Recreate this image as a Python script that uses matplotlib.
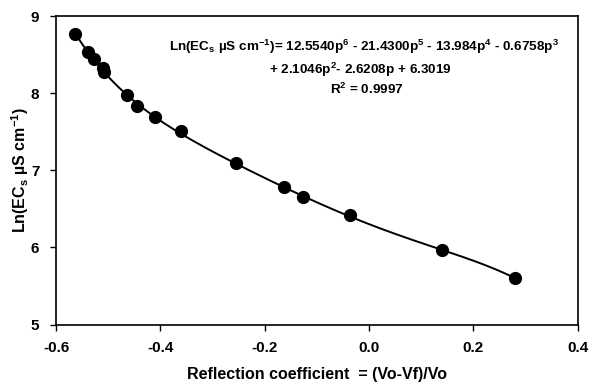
import numpy as np
import matplotlib
matplotlib.use("Agg")
import matplotlib.pyplot as plt

# measured points (reflection coefficient vs ln EC)
refl = [-0.564, -0.539, -0.528, -0.510, -0.507, -0.464, -0.444, -0.411,
        -0.360, -0.255, -0.163, -0.127, -0.036, 0.140, 0.281]
ln_ec = [8.763, 8.529, 8.442, 8.322, 8.278, 7.975, 7.833, 7.690,
         7.505, 7.090, 6.782, 6.656, 6.415, 5.965, 5.598]

# trendline coefficients as printed on the chart (p^6 ... p^0)
coefs = [12.5540, -21.4300, -13.984, -0.6758, 2.1046, -2.6208, 6.3019]
r2 = 0.9997

xticks = [-0.6, -0.4, -0.2, 0.0, 0.2, 0.4]
yticks = [5, 6, 7, 8, 9]

plt.rcParams['font.family'] = ['Liberation Sans', 'DejaVu Sans']
plt.rcParams['font.weight'] = 'bold'
plt.rcParams['mathtext.fontset'] = 'custom'
plt.rcParams['mathtext.rm'] = 'Liberation Sans:bold'
plt.rcParams['mathtext.bf'] = 'Liberation Sans:bold'
plt.rcParams['mathtext.it'] = 'Liberation Sans:bold'
plt.rcParams['mathtext.default'] = 'bf'

W, H = 589, 385
fig = plt.figure(figsize=(W / 100, H / 100), dpi=100)
ax = fig.add_axes([56 / W, 1 - 324.5 / H, (577.5 - 56) / W, (324.5 - 16) / H])

# trendline
p = np.linspace(min(refl), max(refl), 300)
ax.plot(p, np.polyval(coefs, p), color='black', lw=1.4, zorder=2)
ax.plot(refl, ln_ec, 'o', color='black', markersize=8.5, zorder=3)

ax.set_xlim(-0.6, 0.4)
ax.set_ylim(5, 9)
ax.set_xticks(xticks)
ax.set_xticklabels([f"{v:.1f}" for v in xticks])
ax.set_yticks(yticks)
ax.tick_params(direction='out', length=4, width=1, labelsize=11, pad=8)
for s in ax.spines.values():
    s.set_linewidth(1.2)

ax.set_xlabel("Reflection coefficient  = (Vo-Vf)/Vo", fontsize=11.5, fontweight='bold')
ax.xaxis.set_label_coords(0.5, -(367 - 324.5) / 308.5)
ax.set_ylabel(r"Ln(EC$_{s}$ µS cm$^{-1}$)", fontsize=11.5, fontweight='bold')
ax.yaxis.set_label_coords((31 - 56) / 521.5, 0.5)

eq1 = (r"Ln(EC$_{s}$ µS cm$^{-1}$)= 12.5540p$^{6}$ - 21.4300p$^{5}$ - 13.984p$^{4}$"
       r" - 0.6758p$^{3}$")
eq2 = r"+ 2.1046p$^{2}$- 2.6208p + 6.3019"
eq3 = f"R$^{{2}}$ = {r2:.4f}"
fig.text(364 / W, 1 - 47 / H, eq1, ha='center', va='center', fontsize=9.7, fontweight='bold')
fig.text(360 / W, 1 - 70 / H, eq2, ha='center', va='center', fontsize=9.7, fontweight='bold')
fig.text(367 / W, 1 - 89 / H, eq3, ha='center', va='center', fontsize=9.7, fontweight='bold')

fig.savefig("out.png", dpi=100)
